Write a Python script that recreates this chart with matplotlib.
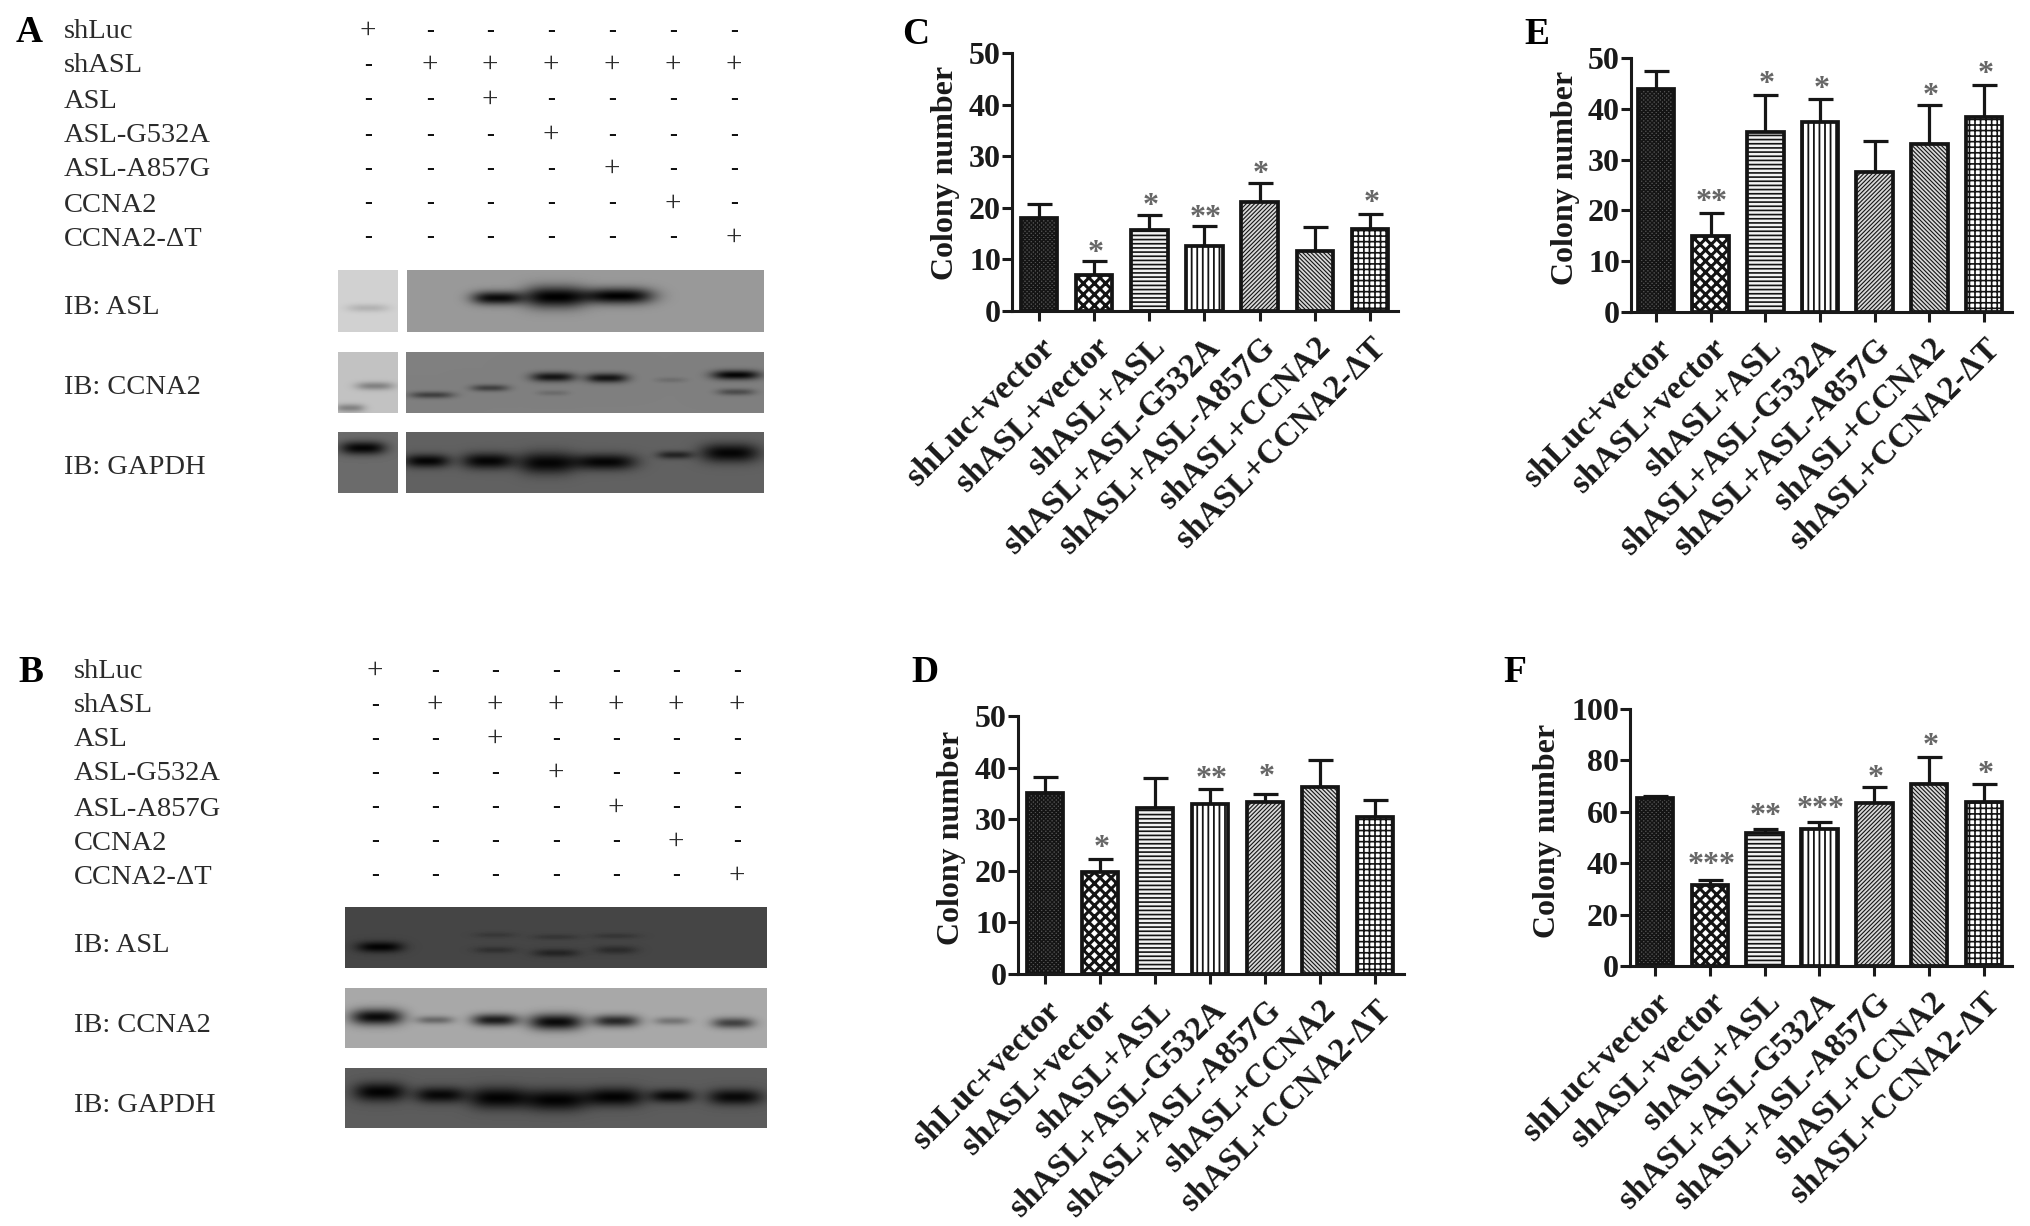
import numpy as np
import matplotlib
matplotlib.use("Agg")
import matplotlib.pyplot as plt

plt.rcParams['font.family'] = ['Liberation Serif', 'DejaVu Serif']
plt.rcParams['hatch.linewidth'] = 1.1

W, H = 2031, 1226

# ---------- bar chart data ----------
categories = ['shLuc+vector', 'shASL+vector', 'shASL+ASL', 'shASL+ASL-G532A',
              'shASL+ASL-A857G', 'shASL+CCNA2', 'shASL+CCNA2-ΔT']
c_vals = [18.1, 7.0, 15.7, 12.6, 21.2, 11.6, 15.9]
c_tops = [20.7, 9.7, 18.6, 16.4, 24.9, 16.2, 18.8]
c_star = ['', '*', '*', '**', '*', '', '*']
c_star_y = [0, 12.6, 21.8, 19.5, 27.9, 0, 22.4]
d_vals = [35.1, 19.8, 32.2, 32.9, 33.4, 36.3, 30.5]
d_tops = [38.1, 22.2, 38.0, 35.9, 34.9, 41.5, 33.7]
d_star = ['', '*', '', '**', '*', '', '']
d_star_y = [0, 25.9, 0, 39.2, 39.6, 0, 0]
e_vals = [43.8, 15.0, 35.4, 37.5, 27.5, 33.1, 38.4]
e_tops = [47.5, 19.5, 42.8, 42.0, 33.6, 40.7, 44.7]
e_star = ['', '**', '*', '*', '', '*', '*']
e_star_y = [0, 23.0, 46.3, 45.4, 0, 44.0, 48.2]
f_vals = [65.3, 31.6, 51.7, 53.5, 63.4, 70.8, 63.7]
f_tops = [66.0, 33.4, 53.2, 56.0, 69.8, 81.5, 70.7]
f_star = ['', '***', '**', '***', '*', '*', '*']
f_star_y = [0, 42.1, 61.2, 64.1, 76.0, 88.5, 77.5]
c_ticks = [0, 10, 20, 30, 40, 50]
f_ticks = [0, 20, 40, 60, 80, 100]

hatches = ['xxxxxxxx', 'xxx', '----', '|||', '////////', '\\\\\\\\\\\\\\\\', '+++']
hatch_lw = [1.1, 2.2, 1.2, 1.3, 0.8, 0.8, 1.2]
faces = ['#555555', 'white', '#f2f2f2', 'white', '#d8d8d8', '#d8d8d8', 'white']

# ---------- blot panel data ----------
row_labels = ['shLuc', 'shASL', 'ASL', 'ASL-G532A', 'ASL-A857G', 'CCNA2', 'CCNA2-ΔT']
lane_flags = [
    ['+', '-', '-', '-', '-', '-', '-'],
    ['-', '+', '+', '+', '+', '+', '+'],
    ['-', '-', '+', '-', '-', '-', '-'],
    ['-', '-', '-', '+', '-', '-', '-'],
    ['-', '-', '-', '-', '+', '-', '-'],
    ['-', '-', '-', '-', '-', '+', '-'],
    ['-', '-', '-', '-', '-', '-', '+'],
]
ib_labels = ['IB: ASL', 'IB: CCNA2', 'IB: GAPDH']

# blots: (x0, x1, y0, y1, background, [(x, y, half-width, half-height, darkening), ...])
blots_a = [
    (338, 398, 270, 332, 0.82, [(368, 308, 20, 3, 0.12)]),
    (407, 764, 270, 332, 0.60, [(497, 298, 24, 5, 0.56), (555, 297, 30, 8, 0.60), (619, 296, 33, 6, 0.60)]),
    (338, 398, 352, 413, 0.76, [(375, 386, 18, 3, 0.25), (350, 408, 14, 3, 0.25)]),
    (406, 764, 352, 413, 0.50, [(432, 395, 21, 2.5, 0.25), (490, 388, 18, 2.5, 0.25), (553, 377, 21, 3.5, 0.42),
                                (553, 393, 15, 2, 0.08), (607, 378, 20, 3.5, 0.42), (671, 380, 15, 2, 0.07),
                                (736, 375, 23, 3.5, 0.48), (736, 392, 18, 2.5, 0.2)]),
    (338, 398, 432, 493, 0.42, [(363, 448, 22, 5, 0.40)]),
    (406, 764, 432, 493, 0.38, [(427, 461, 22, 5, 0.36), (488, 461, 25, 6, 0.36), (547, 463, 27, 8, 0.36),
                                (605, 462, 30, 6, 0.36), (675, 455, 17, 3, 0.24), (730, 453, 28, 7, 0.36)]),
]
blots_b = [
    (345, 767, 907, 968, 0.27, [(380, 947, 22, 4, 0.26), (495, 935, 20, 2, 0.05), (495, 950, 20, 2.5, 0.08),
                                (556, 937, 22, 2, 0.06), (556, 953, 22, 3, 0.13), (616, 936, 22, 2, 0.06),
                                (616, 950, 20, 3, 0.10)]),
    (345, 767, 988, 1048, 0.66, [(377, 1017, 25, 6, 0.62), (435, 1020, 18, 3, 0.25), (495, 1020, 22, 4.5, 0.55),
                                 (556, 1022, 26, 6, 0.62), (616, 1021, 22, 4.5, 0.5), (672, 1021, 17, 3, 0.2),
                                 (733, 1023, 20, 4, 0.4)]),
    (345, 767, 1068, 1128, 0.36, [(380, 1092, 25, 7, 0.35), (440, 1095, 24, 6, 0.33), (498, 1098, 28, 8, 0.35),
                                  (556, 1100, 30, 8, 0.35), (615, 1097, 28, 7, 0.35), (672, 1096, 21, 5, 0.33),
                                  (735, 1097, 26, 6, 0.33)]),
]

fig = plt.figure(figsize=(W / 100, H / 100), dpi=100, facecolor='white')

# overlay in pixel coordinates
ov = fig.add_axes([0, 0, 1, 1], zorder=5)
ov.set_xlim(0, W)
ov.set_ylim(H, 0)
ov.axis('off')
ov.patch.set_alpha(0)

TXT = '#2b2b2b'


def draw_blot(x0, x1, y0, y1, bg, bands):
    xx, yy = np.meshgrid(np.arange(x0, x1) + 0.5, np.arange(y0, y1) + 0.5)
    img = np.full(xx.shape, float(bg))
    for cx, cy, hw, hh, s in bands:
        img -= s * np.exp(-(np.abs(xx - cx) / (hw * 1.05)) ** 3 - ((yy - cy) / (hh * 1.35)) ** 2)
    ov.imshow(np.clip(img, 0, 1), cmap='gray', vmin=0, vmax=1, extent=(x0, x1, y1, y0),
              interpolation='bilinear', aspect='auto')


def blot_panel(letter, lx, ly, label_x, cols, rows, ib_y, blots):
    ov.text(lx, ly, letter, fontsize=27, fontweight='bold', color='black', ha='center', va='center')
    for name, y, flags in zip(row_labels, rows, lane_flags):
        ov.text(label_x, y + 3, name, fontsize=20.5, color=TXT, ha='left', va='center')
        for x, f in zip(cols, flags):
            if f == '+':
                ov.text(x, y + 2, '+', fontsize=21, color=TXT, ha='center', va='center')
            else:
                ov.text(x, y + 2, '-', fontsize=17, color='#111111', ha='center', va='center', fontweight='bold')
    for name, y in zip(ib_labels, ib_y):
        ov.text(label_x, y + 3, name, fontsize=20.5, color=TXT, ha='left', va='center')
    for b in blots:
        draw_blot(*b)


blot_panel('A', 29, 33, 64, [368, 430, 490, 551, 612, 673, 734],
           [29, 63, 98, 133, 167, 202, 236], [304, 385, 465], blots_a)
blot_panel('B', 31, 673, 74, [375, 435, 495, 556, 616, 676, 737],
           [669, 703, 737, 771, 806, 840, 874], [942, 1022, 1102], blots_b)
ov.set_xlim(0, W)
ov.set_ylim(H, 0)


def bar_panel(letter, lxy, axis_x, end_x, y_top, y_bot, first, last, ymax, ticks,
              vals, tops, stars, star_y, ylab_xy):
    ax = fig.add_axes([axis_x / W, 1 - y_bot / H, (end_x - axis_x) / W, (y_bot - y_top) / H])
    sp = (last - first) / 6
    ax.set_xlim((axis_x - first) / sp, (end_x - first) / sp)
    ax.set_ylim(0, ymax)
    ax.patch.set_alpha(0)
    x = np.arange(7)
    errs = np.array(tops) - np.array(vals)
    ax.errorbar(x, vals, yerr=[np.zeros(7), errs], fmt='none', ecolor='#161616',
                elinewidth=2.3, capsize=9, capthick=2.3, zorder=2)
    for i in range(7):
        with plt.rc_context({'hatch.linewidth': hatch_lw[i]}):
            ax.bar(x[i], vals[i], width=36.5 / sp, facecolor=faces[i], edgecolor='#141414',
                   linewidth=2.7, hatch=hatches[i], zorder=3)
    for sp_name in ('top', 'right'):
        ax.spines[sp_name].set_visible(False)
    for sp_name in ('left', 'bottom'):
        ax.spines[sp_name].set_linewidth(2.2)
        ax.spines[sp_name].set_color('#1a1a1a')
        ax.spines[sp_name].set_zorder(4)
    ax.set_yticks(ticks)
    ax.set_xticks(x)
    ax.set_xticklabels(categories, rotation=45, ha='right', rotation_mode='anchor',
                       fontsize=24, fontweight='bold', color='#1a1a1a')
    for lab in ax.get_yticklabels():
        lab.set_fontsize(23)
        lab.set_fontweight('bold')
        lab.set_color('#1a1a1a')
    ax.tick_params(axis='both', length=7, width=2.2, color='#1a1a1a')
    ax.tick_params(axis='y', pad=1)
    ax.tick_params(axis='x', pad=8)
    for i in range(7):
        if stars[i]:
            ax.annotate(stars[i], (x[i], star_y[i]), xytext=(1, -11), textcoords='offset points',
                        ha='center', va='baseline', fontsize=23, fontweight='bold',
                        color='#666666', annotation_clip=False, zorder=6)
    ov.text(lxy[0], lxy[1], letter, fontsize=27, fontweight='bold', color='black', ha='center', va='center')
    ov.text(ylab_xy[0], ylab_xy[1], 'Colony number', fontsize=23, fontweight='bold', color='#1a1a1a',
            rotation=90, ha='center', va='center')


bar_panel('C', (916, 34), 1012, 1398, 53, 311, 1039, 1370, 50, c_ticks, c_vals, c_tops, c_star, c_star_y, (946, 173))
bar_panel('D', (925, 672), 1018, 1404, 716, 974, 1045, 1375, 50, c_ticks, d_vals, d_tops, d_star, d_star_y, (952, 838))
bar_panel('E', (1537, 34), 1631, 2012, 58, 312, 1656, 1984, 50, c_ticks, e_vals, e_tops, e_star, e_star_y, (1566, 178))
bar_panel('F', (1515, 673), 1630, 2012, 709, 966, 1655, 1984, 100, f_ticks, f_vals, f_tops, f_star, f_star_y, (1548, 831))

fig.savefig('out.png', dpi=100, facecolor='white')
